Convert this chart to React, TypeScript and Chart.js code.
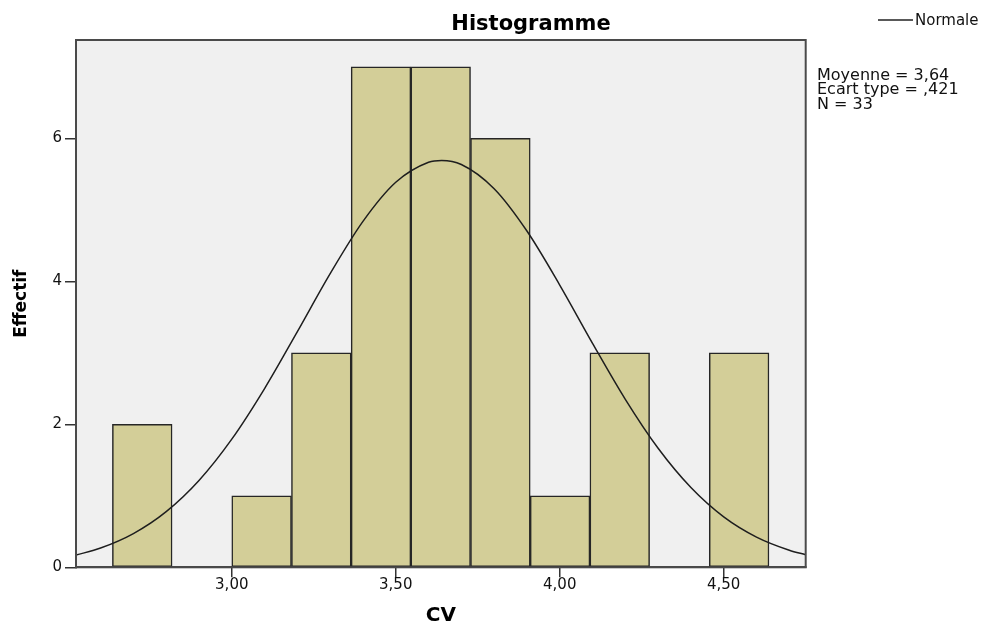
import React, { useEffect, useRef } from 'react';
import { Chart, registerables } from 'chart.js';

Chart.register(...registerables);

const CHART_TITLE = 'Histogramme';
const X_TITLE = 'CV';
const Y_TITLE = 'Effectif';
const LEGEND_LABEL = 'Normale';
const STATS_LINES = ['Moyenne = 3,64', 'Ecart type = ,421', 'N = 33'];

// Histogram bins (lower edge of first bin, bin width) and counts
const BIN_START = 2.636;
const BIN_WIDTH = 0.182;
const COUNTS = [2, 0, 1, 3, 7, 7, 6, 1, 3, 0, 3];

// Axis ranges and ticks
const X_MIN = 2.525;
const X_MAX = 4.75;
const Y_MIN = 0;
const Y_MAX = 7.375;
const X_TICK_VALUES = [3.0, 3.5, 4.0, 4.5];
const X_TICK_LABELS = ['3,00', '3,50', '4,00', '4,50'];
const Y_TICK_VALUES = [0, 2, 4, 6];
const Y_TICK_LABELS = ['0', '2', '4', '6'];

// Normal curve
const CURVE_X = [2.525, 2.6, 2.7, 2.8, 2.9, 3.0, 3.1, 3.2, 3.3, 3.4, 3.5, 3.6, 3.64, 3.7, 3.8, 3.9, 4.0, 4.1, 4.2, 4.3, 4.4, 4.5, 4.6, 4.7, 4.75];
const CURVE_Y = [0.171, 0.269, 0.471, 0.778, 1.214, 1.792, 2.5, 3.296, 4.107, 4.838, 5.385, 5.665, 5.691, 5.634, 5.295, 4.703, 3.948, 3.133, 2.35, 1.665, 1.116, 0.706, 0.423, 0.239, 0.176];

const FONT = 'DejaVu Sans';

const framePlugin = {
  id: 'spssFrame',
  beforeDraw(chart: any) {
    const { ctx, chartArea: a } = chart;
    ctx.save();
    ctx.fillStyle = '#F0F0F0';
    ctx.fillRect(a.left, a.top, a.right - a.left, a.bottom - a.top);
    ctx.restore();
  },
  afterDraw(chart: any) {
    const { ctx, chartArea: a } = chart;
    ctx.save();
    ctx.strokeStyle = '#4a4a4a';
    ctx.lineWidth = 2;
    ctx.strokeRect(a.left, a.top, a.right - a.left, a.bottom - a.top);

    // title
    ctx.fillStyle = '#000';
    ctx.font = `bold 21px "${FONT}"`;
    ctx.textAlign = 'center';
    ctx.textBaseline = 'alphabetic';
    ctx.fillText(CHART_TITLE, 531, 30);

    // legend
    ctx.strokeStyle = '#222';
    ctx.lineWidth = 1.5;
    ctx.beginPath();
    ctx.moveTo(878, 20);
    ctx.lineTo(913, 20);
    ctx.stroke();
    ctx.font = `15px "${FONT}"`;
    ctx.textAlign = 'left';
    ctx.textBaseline = 'middle';
    ctx.fillStyle = '#111';
    ctx.fillText(LEGEND_LABEL, 915, 21);

    // stats
    ctx.font = `16px "${FONT}"`;
    ctx.textBaseline = 'alphabetic';
    STATS_LINES.forEach((t, i) => {
      ctx.fillText(t, 817, 80 + i * 14.3);
    });
    ctx.restore();
  },
};

export default function App() {
  const canvasRef = useRef<HTMLCanvasElement>(null);

  useEffect(() => {
    const canvas = canvasRef.current;
    if (!canvas) return;
    Chart.defaults.font.family = FONT;
    Chart.defaults.color = '#111';

    const barData = COUNTS.map((c, i) => ({ x: BIN_START + BIN_WIDTH * (i + 0.5), y: c }));
    const curveData = CURVE_X.map((x, i) => ({ x, y: CURVE_Y[i] }));

    const chart = new Chart(canvas, {
      type: 'bar',
      data: {
        datasets: [
          {
            type: 'line',
            label: LEGEND_LABEL,
            data: curveData,
            borderColor: '#1e1e1e',
            borderWidth: 1.5,
            pointRadius: 0,
            fill: false,
            cubicInterpolationMode: 'monotone',
            order: 0,
          } as any,
          {
            type: 'bar',
            label: 'Effectif',
            data: barData,
            backgroundColor: '#D3CE98',
            borderColor: '#262626',
            borderWidth: 1.5,
            borderSkipped: false,
            barPercentage: 1,
            categoryPercentage: 1,
            order: 1,
          } as any,
        ],
      },
      plugins: [framePlugin],
      options: {
        responsive: false,
        animation: false,
        layout: { padding: { top: 40, right: 178.3, bottom: 0, left: 0 } },
        plugins: {
          legend: { display: false },
          title: { display: false },
          tooltip: { enabled: false },
        },
        scales: {
          x: {
            type: 'linear',
            position: 'bottom',
            min: X_MIN,
            max: X_MAX,
            offset: false,
            afterBuildTicks: (s: any) => {
              s.ticks = X_TICK_VALUES.map((v) => ({ value: v }));
            },
            afterFit: (s: any) => {
              s.height = 53.7;
            },
            ticks: {
              autoSkip: false,
              maxRotation: 0,
              padding: 0,
              color: '#111',
              font: { size: 15, lineHeight: 1 },
              callback: (v: any) => X_TICK_LABELS[X_TICK_VALUES.indexOf(Number(v))],
            },
            grid: {
              offset: false,
              drawOnChartArea: false,
              drawTicks: true,
              tickLength: 10,
              color: '#333',
              lineWidth: 1.5,
            },
            border: { display: true, color: '#444', width: 2 },
            title: {
              display: true,
              text: X_TITLE,
              color: '#000',
              font: { size: 20, weight: 'bold', lineHeight: 0.5 },
              padding: 0,
            },
          } as any,
          y: {
            type: 'linear',
            min: Y_MIN,
            max: Y_MAX,
            afterBuildTicks: (s: any) => {
              s.ticks = Y_TICK_VALUES.map((v) => ({ value: v }));
            },
            afterFit: (s: any) => {
              s.width = 76;
            },
            ticks: {
              padding: 3,
              color: '#111',
              font: { size: 15 },
              callback: (v: any) => Y_TICK_LABELS[Y_TICK_VALUES.indexOf(Number(v))],
            },
            grid: {
              drawOnChartArea: false,
              drawTicks: true,
              tickLength: 11,
              color: '#333',
              lineWidth: 1.5,
            },
            border: { display: true, color: '#444', width: 2 },
            title: {
              display: true,
              text: Y_TITLE,
              color: '#000',
              font: { size: 17, weight: 'bold' },
              padding: { top: 11, bottom: 0 },
            },
          } as any,
        },
      },
    });
    return () => chart.destroy();
  }, []);

  return (
    <div style={{ position: 'fixed', left: 0, top: 0, width: 984, height: 621, background: '#fff' }}>
      <canvas ref={canvasRef} width={984} height={621} style={{ display: 'block', width: 984, height: 621 }} />
    </div>
  );
}
